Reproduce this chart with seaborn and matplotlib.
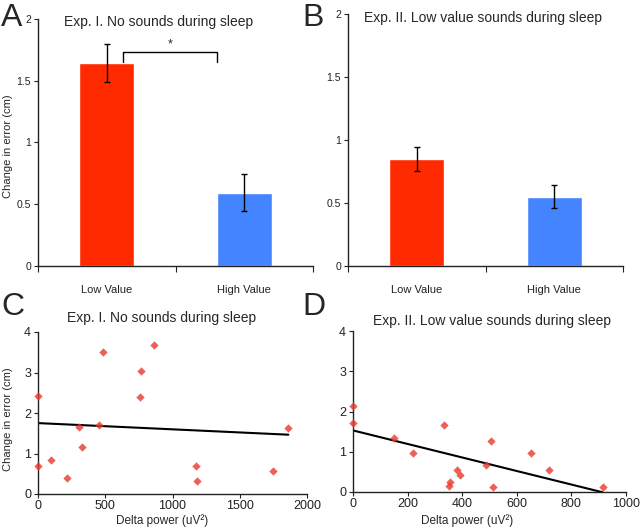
import matplotlib
matplotlib.use("Agg")
import matplotlib.pyplot as plt
import seaborn as sns
import pandas as pd
import numpy as np

# ---------------- data ----------------
conditions = ["Low Value", "High Value"]
bar_colors = ["#ff2a00", "#4485ff"]

exp1_means = [1.64, 0.59]
exp1_sem = [0.155, 0.15]
exp2_means = [0.85, 0.55]
exp2_sem = [0.093, 0.09]

exp1_delta = [0, 0, 94, 214, 303, 325, 450, 484, 763, 758, 860, 1173, 1180, 1747, 1861]
exp1_change = [2.41, 0.68, 0.83, 0.40, 1.66, 1.16, 1.70, 3.50, 3.04, 2.39, 3.69, 0.69, 0.33, 0.58, 1.63]

exp2_delta = [0, 0, 149, 221, 335, 352, 357, 380, 392, 489, 506, 512, 653, 719, 914]
exp2_change = [2.14, 1.71, 1.34, 0.98, 1.67, 0.16, 0.26, 0.55, 0.41, 0.66, 1.27, 0.12, 0.96, 0.55, 0.12]

bar_yticks = [0, 0.5, 1, 1.5, 2]
bar_yticklabels = ["0", "0.5", "1", "1.5", "2"]
sc_yticks = [0, 1, 2, 3, 4]
c_xticks = [0, 500, 1000, 1500, 2000]
d_xticks = [0, 200, 400, 600, 800, 1000]

title_a = "Exp. I. No sounds during sleep"
title_b = "Exp. II. Low value sounds during sleep"
ylabel = "Change in error (cm)"
xlabel = "Delta power (uV²)"

# ---------------- style ----------------
sns.set_style("ticks")
plt.rcParams["font.family"] = ["Liberation Sans", "DejaVu Sans"]
plt.rcParams["axes.edgecolor"] = "#222222"
plt.rcParams["axes.linewidth"] = 1.0
plt.rcParams["xtick.color"] = "#222222"
plt.rcParams["ytick.color"] = "#222222"

fig = plt.figure(figsize=(6.4, 5.3), dpi=100)
W, H = 640.0, 530.0


def ax_px(left, right, top, bottom):
    return fig.add_axes([left / W, 1 - bottom / H, (right - left) / W, (bottom - top) / H])


axA = ax_px(38, 313, 19, 265.5)
axB = ax_px(348, 623, 14, 266)
axC = ax_px(38, 307, 332, 494)
axD = ax_px(353, 626, 331, 492)


def bar_panel(ax, means, sems):
    df = pd.DataFrame({"cond": conditions, "val": means})
    sns.barplot(data=df, x="cond", y="val", hue="cond", palette=bar_colors,
                width=0.4, errorbar=None, legend=False, ax=ax, saturation=1)
    ax.errorbar(np.arange(len(means)), means, yerr=sems, fmt="none",
                ecolor="black", elinewidth=1.0, capsize=2, capthick=1.0)
    ax.set_ylim(0, 2)
    ax.set_xlim(-0.5, 1.5)
    ax.set_yticks(bar_yticks)
    ax.set_yticklabels(bar_yticklabels, fontsize=7.5)
    ax.set_xticks(np.arange(len(conditions)))
    ax.set_xticklabels(conditions, fontsize=8)
    ax.tick_params(axis="x", length=0, pad=14)
    ax.set_xticks([-0.5, 0.5, 1.5], minor=True)
    ax.tick_params(axis="x", which="minor", length=4, width=0.8)
    ax.tick_params(axis="y", length=3, width=0.8, pad=2)
    ax.set_xlabel("")
    ax.set_ylabel("")
    sns.despine(ax=ax)


bar_panel(axA, exp1_means, exp1_sem)
bar_panel(axB, exp2_means, exp2_sem)

# significance bracket on panel A
br_x = [0.12, 0.12, 0.80, 0.80]
br_y = [1.65, 1.73, 1.73, 1.65]
axA.plot(br_x, br_y, color="black", lw=1.0)
axA.text(0.46, 1.745, "*", ha="center", va="bottom", fontsize=9)


def scatter_panel(ax, xs, ys, xlim, xticks):
    df = pd.DataFrame({"delta": xs, "change": ys})
    sns.regplot(data=df, x="delta", y="change", ci=None, ax=ax, marker="D",
                scatter_kws={"s": 18, "color": "#e8382a", "clip_on": False,
                             "linewidths": 0, "zorder": 3},
                line_kws={"color": "black", "lw": 1.5})
    ax.set_xlim(*xlim)
    ax.set_ylim(0, 4)
    ax.set_xticks(xticks)
    ax.set_xticklabels([str(t) for t in xticks], fontsize=9)
    ax.set_yticks(sc_yticks)
    ax.set_yticklabels([str(t) for t in sc_yticks], fontsize=9)
    ax.tick_params(length=3, width=0.8, pad=2)
    ax.tick_params(axis="x", pad=1.5)
    ax.set_xlabel("")
    ax.set_ylabel("")
    sns.despine(ax=ax)


scatter_panel(axC, exp1_delta, exp1_change, (0, 2000), c_xticks)
scatter_panel(axD, exp2_delta, exp2_change, (0, 1000), d_xticks)

# titles
fig.text(159 / W, 1 - 22 / H, title_a, ha="center", va="center", fontsize=10)
fig.text(483 / W, 1 - 18 / H, title_b, ha="center", va="center", fontsize=10)
fig.text(162 / W, 1 - 318 / H, title_a, ha="center", va="center", fontsize=10)
fig.text(492 / W, 1 - 321 / H, title_b, ha="center", va="center", fontsize=10)

# axis labels
fig.text(8 / W, 1 - 146 / H, ylabel, rotation=90, ha="center", va="center", fontsize=8)
fig.text(8 / W, 1 - 419 / H, ylabel, rotation=90, ha="center", va="center", fontsize=8)
fig.text(162 / W, 1 - 521 / H, xlabel, ha="center", va="center", fontsize=8.5)
fig.text(467 / W, 1 - 521 / H, xlabel, ha="center", va="center", fontsize=8.5)

# panel letters
for letter, (px, py) in {"A": (1, 26), "B": (302, 26), "C": (1, 315), "D": (302, 315)}.items():
    fig.text(px / W, 1 - py / H, letter, ha="left", va="baseline", fontsize=23)

fig.savefig("out.png", dpi=100)
